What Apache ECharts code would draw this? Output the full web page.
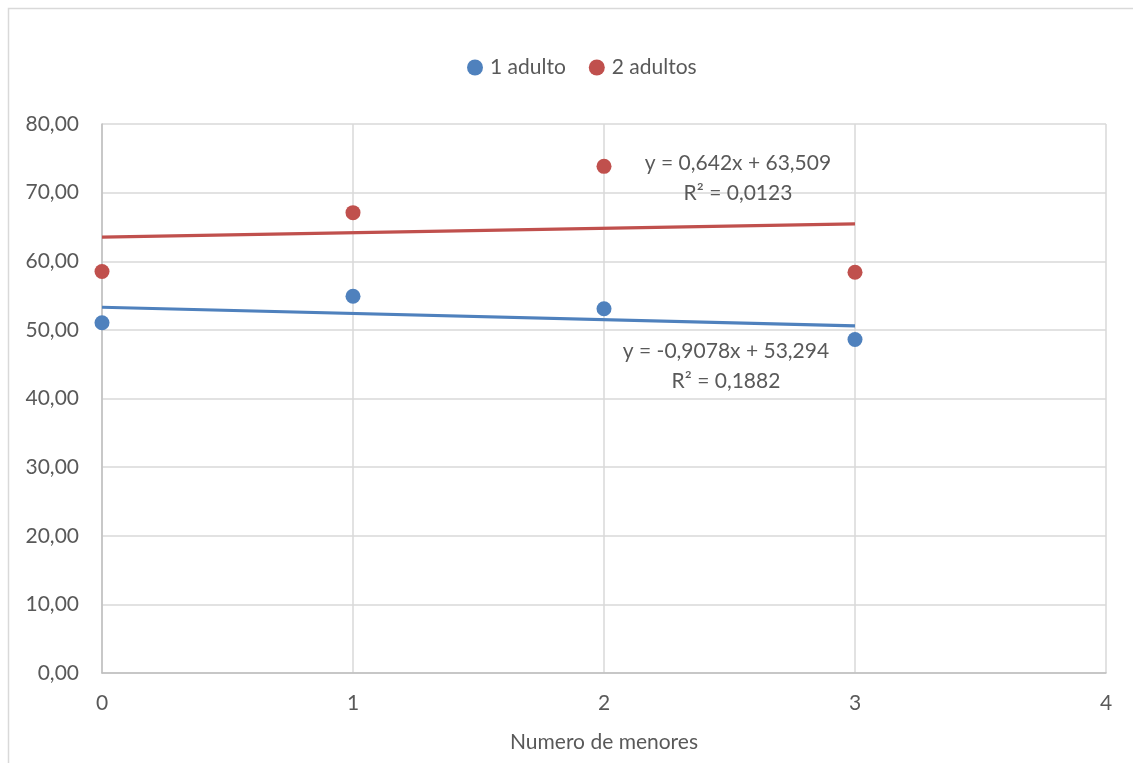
<!DOCTYPE html>
<html>
<head>
<meta charset="utf-8">
<script src="https://cdn.jsdelivr.net/npm/echarts@6/dist/echarts.min.js"></script>
<style>
  html, body { margin: 0; padding: 0; background: #fff; }
  #chart { width: 1133px; height: 763px; }
</style>
</head>
<body>
<div id="chart"></div>
<script>
// Number of minors in the household (x) and scores for each adult group
const menores = [0, 1, 2, 3];
const unAdulto = [51.03, 54.9, 53.07, 48.6];
const dosAdultos = [58.5, 67.08, 73.83, 58.4];

// Linear trend fits as printed next to each line
const trendUno = { slope: -0.9078, intercept: 53.294, r2: '0,1882', label: 'y = -0,9078x + 53,294' };
const trendDos = { slope: 0.642, intercept: 63.509, r2: '0,0123', label: 'y = 0,642x + 63,509' };

const yTicks = { min: 0, max: 80, interval: 10 };
const xTicks = { min: 0, max: 4, interval: 1 };

const BLUE = '#4F81BD';
const RED = '#C0504D';
const TEXT = '#595959';
const FONT = 'Lato';
const FS = 21;

function pairs(xs, ys) { return xs.map((x, i) => [x, ys[i]]); }

function trendData(t, labelOffset) {
  const x0 = menores[0];
  const x1 = menores[menores.length - 1];
  return [
    [x0, t.intercept + t.slope * x0],
    {
      value: [x1, t.intercept + t.slope * x1],
      label: {
        show: true,
        position: 'inside',
        offset: labelOffset,
        formatter: t.label + '\n' + 'R² = ' + t.r2,
        color: TEXT,
        fontFamily: FONT,
        fontSize: FS,
        lineHeight: 30,
        align: 'center',
        verticalAlign: 'middle'
      }
    }
  ];
}

function trendSeries(t, color, offset) {
  return {
    type: 'line',
    data: trendData(t, offset),
    symbol: 'circle',
    symbolSize: 0,
    showSymbol: true,
    lineStyle: { color: color, width: 3.2 },
    itemStyle: { color: color },
    label: { show: false },
    silent: true,
    z: 1
  };
}

const chart = echarts.init(document.getElementById('chart'), null, { renderer: 'canvas' });

chart.setOption({
  animation: false,
  backgroundColor: '#ffffff',
  graphic: [{
    type: 'rect',
    shape: { x: 8.5, y: 8.5, width: 1140, height: 770 },
    style: { fill: 'none', stroke: '#d9d9d9', lineWidth: 1.5 },
    silent: true
  }],
  legend: {
    top: 52,
    left: 462,
    itemWidth: 16,
    itemHeight: 16,
    itemGap: 23,
    itemStyle: { borderWidth: 0 },
    icon: 'circle',
    textStyle: { color: TEXT, fontFamily: FONT, fontSize: FS, padding: [0, 0, 0, 2] },
    data: ['1 adulto', '2 adultos']
  },
  grid: { left: 102, right: 27, top: 124, bottom: 90, containLabel: false },
  xAxis: {
    type: 'value',
    min: xTicks.min,
    max: xTicks.max,
    interval: xTicks.interval,
    name: 'Numero de menores',
    nameLocation: 'middle',
    nameGap: 59,
    nameTextStyle: { color: TEXT, fontFamily: FONT, fontSize: FS },
    axisLine: { show: true, lineStyle: { color: '#bfbfbf', width: 1.5 } },
    axisTick: { show: false },
    axisLabel: { color: TEXT, fontFamily: FONT, fontSize: FS, margin: 20 },
    splitLine: { show: true, lineStyle: { color: '#d9d9d9', width: 1.5 } }
  },
  yAxis: {
    type: 'value',
    min: yTicks.min,
    max: yTicks.max,
    interval: yTicks.interval,
    axisLine: { show: true, lineStyle: { color: '#bfbfbf', width: 1.5 } },
    axisTick: { show: false },
    axisLabel: {
      color: TEXT, fontFamily: FONT, fontSize: FS, margin: 23,
      formatter: v => v.toFixed(2).replace('.', ',')
    },
    splitLine: { show: true, lineStyle: { color: '#d9d9d9', width: 1.5 } }
  },
  series: [
    trendSeries(trendUno, BLUE, [-129, 40]),
    trendSeries(trendDos, RED, [-117, -46]),
    {
      name: '1 adulto',
      type: 'scatter',
      data: pairs(menores, unAdulto),
      symbol: 'circle',
      symbolSize: 15,
      itemStyle: { color: BLUE, opacity: 1 },
      z: 3
    },
    {
      name: '2 adultos',
      type: 'scatter',
      data: pairs(menores, dosAdultos),
      symbol: 'circle',
      symbolSize: 15,
      itemStyle: { color: RED, opacity: 1 },
      z: 3
    }
  ]
});
</script>
</body>
</html>
